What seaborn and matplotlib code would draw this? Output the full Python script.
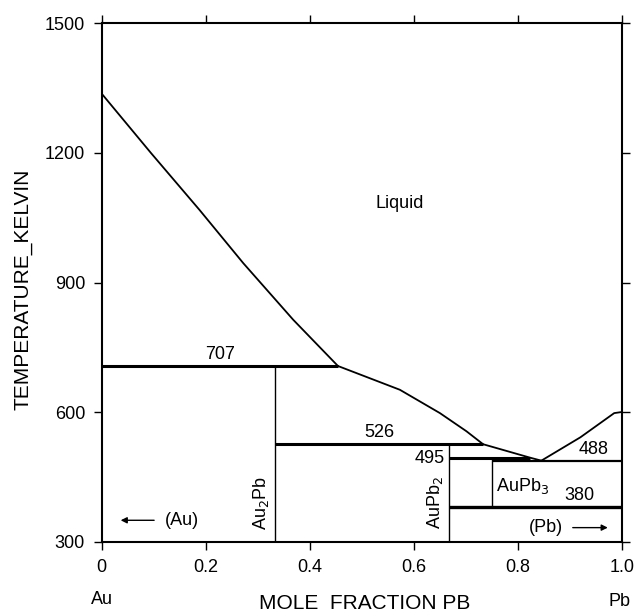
import matplotlib
matplotlib.use("Agg")
import matplotlib.pyplot as plt
import seaborn as sns
import pandas as pd

# liquidus branches (mole fraction Pb, temperature K)
liq_au_x = [0.0, 0.0945, 0.188, 0.272, 0.368, 0.454]
liq_au_t = [1337, 1200, 1068, 945, 814, 707]
liq_mid_x = [0.454, 0.573, 0.650, 0.701, 0.733, 0.823, 0.845]
liq_mid_t = [707, 652, 598, 556, 526, 495, 488]
liq_pb_x = [0.845, 0.920, 0.985, 1.0]
liq_pb_t = [488, 542, 598, 600.6]

# invariant reactions: temperature, x start, x end
inv_temp = [707, 526, 495, 488, 380]
inv_x0 = [0.0, 1 / 3, 2 / 3, 0.75, 2 / 3]
inv_x1 = [0.454, 0.733, 0.823, 1.0, 1.0]
inv_lw = [2.2, 2.2, 2.2, 1.6, 2.4]
inv_lab_x = [0.227, 0.533, None, 0.946, 0.919]

# compounds: composition, bottom, top
comp_x = [1 / 3, 2 / 3, 0.75]
comp_lo = [300, 300, 380]
comp_hi = [707, 526, 495]

sns.set_style("ticks")
plt.rcParams['font.family'] = ['Liberation Sans', 'DejaVu Sans']
plt.rcParams['text.color'] = 'black'
plt.rcParams['axes.labelcolor'] = 'black'
plt.rcParams['xtick.color'] = 'black'
plt.rcParams['ytick.color'] = 'black'

fig = plt.figure(figsize=(6.36, 6.13), dpi=100)
ax = fig.add_axes([0.160, 0.116, 0.818, 0.846])

frames = []
for name, xs, ts in [("au", liq_au_x, liq_au_t), ("mid", liq_mid_x, liq_mid_t), ("pb", liq_pb_x, liq_pb_t)]:
    frames.append(pd.DataFrame({"x": xs, "T": ts, "branch": name}))
liq = pd.concat(frames, ignore_index=True)
sns.lineplot(data=liq, x="x", y="T", units="branch", estimator=None, sort=False,
             color="black", lw=1.3, ax=ax, legend=False)

for t, a, b, lw in zip(inv_temp, inv_x0, inv_x1, inv_lw):
    ax.hlines(t, a, b, color="black", lw=lw)
ax.vlines(comp_x, comp_lo, comp_hi, color="black", lw=1.0)

fs = 13
for t, lx in zip(inv_temp, inv_lab_x):
    if lx is not None:
        ax.text(lx, t + 7, str(t), ha="center", va="bottom", fontsize=fs)
ax.text(0.66, 493, "495", ha="right", va="center", fontsize=fs)

ax.text(0.573, 1084, "Liquid", ha="center", va="center", fontsize=fs)
ax.text(0.757, 430, r"AuPb$_3$", ha="left", va="center", fontsize=fs)
ax.text(0.307, 390, r"Au$_2$Pb", ha="center", va="center", rotation=90, fontsize=fs)
ax.text(0.640, 390, r"AuPb$_2$", ha="center", va="center", rotation=90, fontsize=fs)
ax.text(0.121, 350, "(Au)", ha="left", va="center", fontsize=fs)
ax.annotate("", xy=(0.031, 350), xytext=(0.106, 350),
            arrowprops=dict(arrowstyle="-|>", color="black", lw=1.0, mutation_scale=9))
ax.text(0.887, 333, "(Pb)", ha="right", va="center", fontsize=fs)
ax.annotate("", xy=(0.978, 333), xytext=(0.900, 333),
            arrowprops=dict(arrowstyle="-|>", color="black", lw=1.0, mutation_scale=9))

ax.set_xlim(0, 1)
ax.set_ylim(300, 1500)
ax.set_xticks([0, 0.2, 0.4, 0.6, 0.8, 1.0])
ax.set_xticklabels(["0", "0.2", "0.4", "0.6", "0.8", "1.0"])
ax.set_yticks([300, 600, 900, 1200, 1500])
ax.tick_params(direction="out", length=6, width=1.0, labelsize=fs, pad=6,
               top=True, right=True, labeltop=False, labelright=False, color="black")
for s in ax.spines.values():
    s.set_linewidth(1.5)
    s.set_color("black")

ax.set_xlabel("MOLE  FRACTION PB", fontsize=15)
ax.xaxis.label.set_va("center")
ax.xaxis.set_label_coords(0.506, -0.119)
ax.set_ylabel("TEMPERATURE_KELVIN", fontsize=15)
ax.yaxis.label.set_va("center")
ax.yaxis.set_label_coords(-0.151, 0.488)
fig.text(102 / 636, 1 - 600 / 613, "Au", ha="center", va="center", fontsize=fs)
fig.text(620 / 636, 1 - 601 / 613, "Pb", ha="center", va="center", fontsize=fs)

fig.savefig("out.png", dpi=100)
